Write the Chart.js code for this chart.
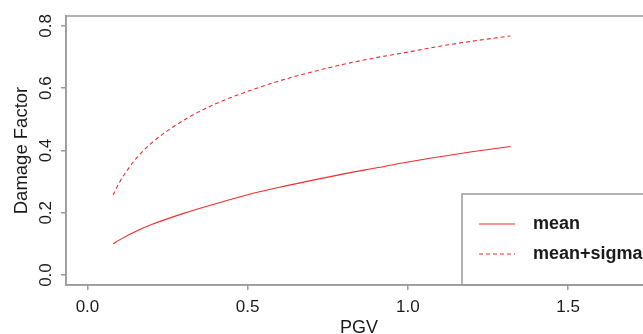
<!DOCTYPE html>
<html>
<head>
<meta charset="utf-8">
<script src="https://cdn.jsdelivr.net/npm/chart.js@4"></script>
<style>
  html, body { margin: 0; padding: 0; background: #fff; overflow: hidden; }
  #wrap { width: 643px; height: 334px; overflow: hidden; }
</style>
</head>
<body>
<div id="wrap"><canvas id="damage" width="670" height="334"></canvas></div>
<script>
// valores
const pgv = [0.08, 0.10, 0.15, 0.20, 0.30, 0.40, 0.50, 0.60, 0.70, 0.80, 0.90, 1.00, 1.10, 1.20, 1.32];
const dfMean = [0.100, 0.113, 0.140, 0.162, 0.198, 0.229, 0.258, 0.282, 0.304, 0.325, 0.344, 0.363, 0.380, 0.396, 0.413];
const dfMeanSigma = [0.257, 0.298, 0.372, 0.424, 0.497, 0.550, 0.590, 0.624, 0.652, 0.677, 0.698, 0.716, 0.735, 0.751, 0.768];
const seriesNames = ['mean', 'mean+sigma'];
const xTicks = [0, 0.5, 1.0, 1.5];
const yTicks = [0, 0.2, 0.4, 0.6, 0.8];

const boxColor = '#9a9a9a';
const txtColor = '#1a1a1a';
const lineColor = '#f22c2c';

try {
  const ctx = document.getElementById('damage');

  // caja del grafico, etiquetas de y y leyenda
  const extras = {
    id: 'extras',
    afterDraw(chart) {
      const c = chart.ctx;
      const a = chart.chartArea;
      const ys = chart.scales.y;
      c.save();
      c.strokeStyle = boxColor;
      c.lineWidth = 1.5;
      c.strokeRect(a.left, a.top, a.right - a.left, a.bottom - a.top);

      c.fillStyle = txtColor;
      c.font = '17px "Liberation Sans", Arial, sans-serif';
      c.textAlign = 'center';
      c.textBaseline = 'middle';
      yTicks.forEach(v => {
        c.save();
        c.translate(46, ys.getPixelForValue(v));
        c.rotate(-Math.PI / 2);
        c.fillText(v.toFixed(1), 0, 0);
        c.restore();
      });
      c.font = '18.5px "Liberation Sans", Arial, sans-serif';
      c.save();
      c.translate(22, (a.top + a.bottom) / 2);
      c.rotate(-Math.PI / 2);
      c.fillText('Damage Factor', 0, 0);
      c.restore();

      // leyenda abajo a la derecha
      const lx = 462, ly = 194;
      c.strokeStyle = boxColor;
      c.lineWidth = 1.5;
      c.strokeRect(lx, ly, a.right - lx, a.bottom - ly);
      c.font = 'bold 18px "Liberation Sans", Arial, sans-serif';
      c.textAlign = 'left';
      chart.data.datasets.forEach((ds, i) => {
        const y = 224 + i * 30;
        c.strokeStyle = ds.borderColor;
        c.lineWidth = ds.borderWidth;
        c.setLineDash(ds.borderDash || []);
        c.beginPath();
        c.moveTo(479, y);
        c.lineTo(515, y);
        c.stroke();
        c.setLineDash([]);
        c.fillStyle = txtColor;
        c.fillText(ds.label, 533, y);
      });
      c.restore();
    }
  };

  const chartDamage = new Chart(ctx, {
    type: 'line',
    data: {
      datasets: [{
        label: seriesNames[0],
        data: pgv.map((x, i) => ({ x: x, y: dfMean[i] })),
        borderColor: lineColor,
        borderWidth: 1.1,
        pointRadius: 0,
        cubicInterpolationMode: 'monotone'
      }, {
        label: seriesNames[1],
        data: pgv.map((x, i) => ({ x: x, y: dfMeanSigma[i] })),
        borderColor: lineColor,
        borderWidth: 1.1,
        borderDash: [4, 3],
        pointRadius: 0,
        cubicInterpolationMode: 'monotone'
      }]
    },
    options: {
      responsive: false,
      animation: false,
      devicePixelRatio: 1,
      layout: { padding: { top: 16, right: 18, left: 0, bottom: 0 } },
      scales: {
        x: {
          type: 'linear',
          min: -0.067,
          max: 1.762,
          afterBuildTicks: s => { s.ticks = xTicks.map(v => ({ value: v })); },
          afterFit: s => { s.height = 49; },
          ticks: {
            maxRotation: 0,
            padding: 7,
            color: txtColor,
            font: { family: '"Liberation Sans", Arial, sans-serif', size: 17 },
            callback: v => Number(v).toFixed(1)
          },
          grid: { drawOnChartArea: false, tickLength: 5, color: boxColor, lineWidth: 1.5 },
          border: { color: boxColor, width: 1.5 },
          title: {
            display: true,
            text: 'PGV',
            color: txtColor,
            padding: { top: 0, bottom: -5 },
            font: { family: '"Liberation Sans", Arial, sans-serif', size: 18 }
          }
        },
        y: {
          type: 'linear',
          min: -0.032,
          max: 0.832,
          afterBuildTicks: s => { s.ticks = yTicks.map(v => ({ value: v })); },
          afterFit: s => { s.width = 66; },
          ticks: { display: false },
          grid: { drawOnChartArea: false, tickLength: 5, color: boxColor, lineWidth: 1.5 },
          border: { color: boxColor, width: 1.5 }
        }
      },
      plugins: {
        legend: { display: false },
        tooltip: { enabled: false }
      }
    },
    plugins: [extras]
  });
} catch (error) {
  console.error(error);
}
</script>
</body>
</html>
